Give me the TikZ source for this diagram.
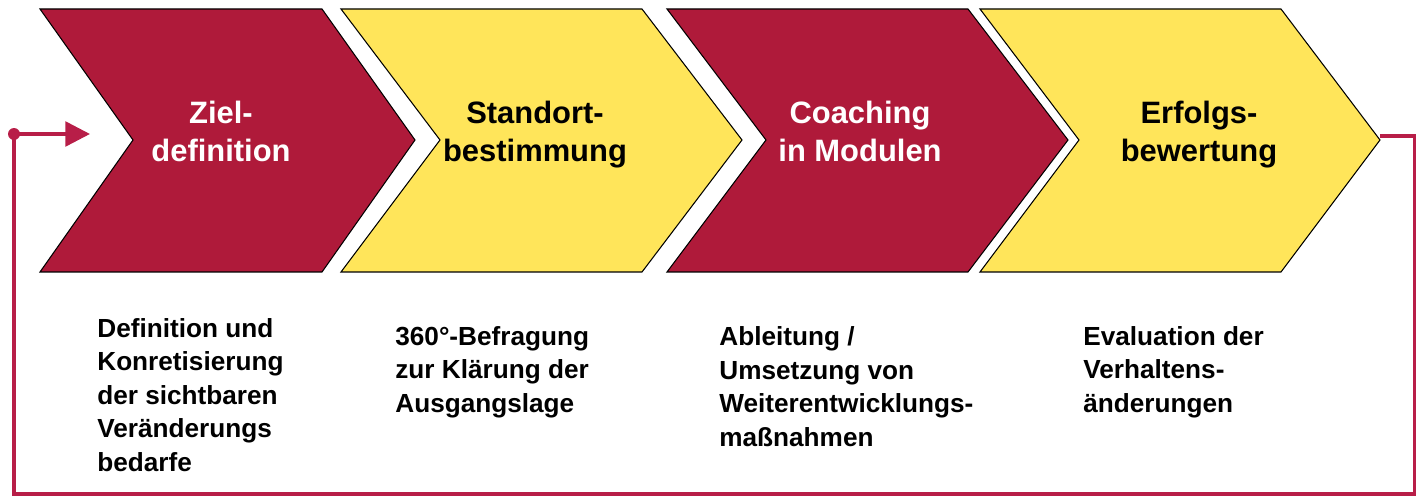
\documentclass[tikz,border=0pt]{standalone}
\usepackage{fontspec}
\setmainfont{Liberation Sans}
\usetikzlibrary{arrows.meta}
\definecolor{phaserot}{RGB}{175,26,58}
\definecolor{phasegelb}{RGB}{255,229,90}
\definecolor{schleifenrot}{RGB}{184,30,72}
\begin{document}
\begin{tikzpicture}[
	x=0.02cm, y=-0.02cm,
	chevron/.style={draw=black, line width=0.6pt, line join=miter},
	rot/.style={chevron, fill=phaserot},
	gelb/.style={chevron, fill=phasegelb},
	titel/.style={font=\fontsize{17.6}{21.9}\selectfont\bfseries, align=center, anchor=base, inner sep=0pt},
	untertext/.style={font=\fontsize{14.9}{19}\selectfont\bfseries, align=left, anchor=base west, inner sep=0pt},
	schleife/.style={draw=schleifenrot, line width=2pt},
]
\useasboundingbox (0,0) rectangle (1416,496);

\begin{scope}[]
%%% PHASEN
\draw [rot]  (40,9) -- (322,9) -- (415,140) -- (322,272) -- (40,272) -- (133,140) -- cycle;
\draw [gelb] (341,9) -- (642,9) -- (742,140) -- (642,272) -- (341,272) -- (440,140) -- cycle;
\draw [rot]  (667,9) -- (968,9) -- (1068,140) -- (968,272) -- (667,272) -- (766,140) -- cycle;
\draw [gelb] (980,9) -- (1281,9) -- (1380,140) -- (1281,272) -- (980,272) -- (1079,140) -- cycle;

\node [titel, text=white] (ziel) at (221,162) {Ziel-\\definition};
\node [titel] (standort) at (535,162) {Standort-\\bestimmung};
\node [titel, text=white] (coaching) at (860,162) {Coaching\\in Modulen};
\node [titel] (erfolg) at (1199,162) {Erfolgs-\\bewertung};
\end{scope}

\begin{scope}[]
%%% BESCHREIBUNGEN
\node [untertext] (zieltext) at (97,471) {Definition und\\Konretisierung\\der sichtbaren\\Veränderungs\\bedarfe};
\node [untertext] (standorttext) at (395,412) {360°-Befragung\\zur Klärung der\\Ausgangslage};
\node [untertext] (coachingtext) at (719,446) {Ableitung /\\Umsetzung von\\Weiterentwicklungs-\\maßnahmen};
\node [untertext] (erfolgtext) at (1083,412) {Evaluation der\\Verhaltens-\\änderungen};
\end{scope}

\begin{scope}[]
%%% SCHLEIFE
\coordinate (rechts) at (1380,136);
\coordinate (links) at (14,134);
\coordinate (pfeil) at (90,134);
\draw [schleife] (rechts) -| (1415,494) -| (links);
\draw [schleife, -{Triangle[length=14pt, width=14pt]}] (links) -- (pfeil);
\fill [schleifenrot] (links) circle (3.4pt);
\end{scope}

\end{tikzpicture}
\end{document}
